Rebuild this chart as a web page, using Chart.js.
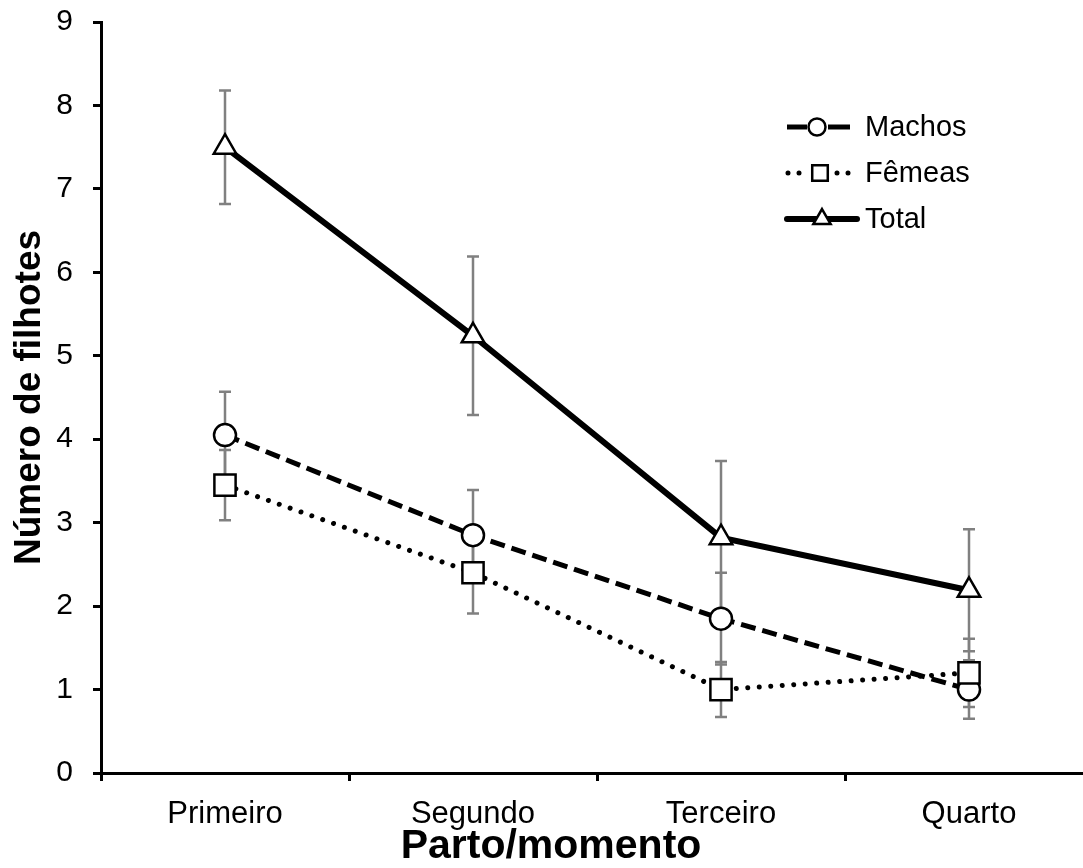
<!DOCTYPE html>
<html>
<head>
<meta charset="utf-8">
<script src="https://cdn.jsdelivr.net/npm/chart.js@4.4.1/dist/chart.umd.min.js"></script>
<style>
  html, body { margin: 0; padding: 0; background: #fff; overflow: hidden; }
  #wrap { position: absolute; left: 0; top: 0; }
</style>
</head>
<body>
<div id="wrap"><canvas id="chart" width="1110" height="868"></canvas></div>
<script>
// values
const categories = ['Primeiro', 'Segundo', 'Terceiro', 'Quarto'];
const machos = [4.05, 2.85, 1.85, 1.00];
const machosErr = [0.52, 0.54, 0.55, 0.35];
const femeas = [3.45, 2.40, 1.00, 1.20];
const femeasErr = [0.42, 0.49, 0.33, 0.41];
const total = [7.50, 5.24, 2.82, 2.19];
const totalErr = [0.68, 0.95, 0.92, 0.73];
const yMin = 0, yMax = 9, yStep = 1;
const xTitle = 'Parto/momento';

const FONT = "'Liberation Sans', Arial, sans-serif";

// error bars, drawn under lines and markers
const errorBars = {
  id: 'errorBars',
  beforeDatasetsDraw(c) {
    const ctx = c.ctx;
    const x = c.scales.x, y = c.scales.y;
    ctx.save();
    ctx.strokeStyle = '#808080';
    ctx.lineWidth = 2.5;
    c.data.datasets.forEach((ds) => {
      ds.data.forEach((v, i) => {
        const e = ds.errors[i];
        const px = x.getPixelForValue(i);
        const top = y.getPixelForValue(v + e);
        const bot = y.getPixelForValue(v - e);
        ctx.beginPath();
        ctx.moveTo(px, top); ctx.lineTo(px, bot);
        ctx.moveTo(px - 6, top); ctx.lineTo(px + 6, top);
        ctx.moveTo(px - 6, bot); ctx.lineTo(px + 6, bot);
        ctx.stroke();
      });
    });
    ctx.restore();
  }
};

// x title sits a bit left of the axis middle in the original
const bottomTitle = {
  id: 'bottomTitle',
  afterDraw(c) {
    const ctx = c.ctx;
    const a = c.chartArea;
    ctx.save();
    ctx.fillStyle = '#000';
    ctx.font = 'bold 41px ' + FONT;
    ctx.textAlign = 'center';
    ctx.textBaseline = 'middle';
    ctx.fillText(xTitle, a.left + 450, a.bottom + 74);
    ctx.restore();
  }
};

// legend inside the plot, line - marker - line
const innerLegend = {
  id: 'innerLegend',
  afterDraw(c) {
    const ctx = c.ctx;
    const a = c.chartArea;
    const x0 = a.left + 686;
    const y0 = a.top + 105;
    const rows = [
      { ds: 0, segs: [[0, 20], [41, 63]], dash: [], width: 5, cap: 'butt', mx: 30, r: 8.5 },
      { ds: 1, segs: [[1, 13], [50, 62]], dash: [0.01, 11], width: 5, cap: 'round', mx: 33, r: 11 },
      { ds: 2, segs: [[0, 70]], dash: [], width: 6, cap: 'round', mx: 35, r: 10 },
    ];
    ctx.save();
    rows.forEach((row, k) => {
      const ds = c.data.datasets[row.ds];
      const yy = y0 + k * 46;
      ctx.strokeStyle = '#000';
      ctx.lineWidth = row.width;
      ctx.lineCap = row.cap;
      ctx.setLineDash(row.dash);
      row.segs.forEach(s => {
        ctx.beginPath();
        ctx.moveTo(x0 + s[0], yy);
        ctx.lineTo(x0 + s[1], yy);
        ctx.stroke();
      });
      ctx.setLineDash([]);
      ctx.lineWidth = 2.5;
      ctx.fillStyle = '#fff';
      Chart.helpers.drawPoint(ctx, { pointStyle: ds.pointStyle, radius: row.r, rotation: 0, borderWidth: 2.5 }, x0 + row.mx, yy);
      ctx.fillStyle = '#000';
      ctx.font = '29px ' + FONT;
      ctx.textBaseline = 'middle';
      ctx.textAlign = 'left';
      ctx.fillText(ds.label, x0 + 78, yy + 1);
    });
    ctx.restore();
  }
};

new Chart(document.getElementById('chart'), {
  type: 'line',
  data: {
    labels: categories,
    datasets: [
      {
        label: 'Machos', data: machos, errors: machosErr, order: 1,
        borderColor: '#000', borderWidth: 5, borderDash: [15, 7],
        pointStyle: 'circle', pointRadius: 11, pointBorderWidth: 2.5,
        pointBackgroundColor: '#fff', pointBorderColor: '#000',
      },
      {
        label: 'Fêmeas', data: femeas, errors: femeasErr, order: 0,
        borderColor: '#000', borderWidth: 5, borderDash: [0.01, 11.5], borderCapStyle: 'round',
        pointStyle: 'rect', pointRadius: 15, pointBorderWidth: 2.5,
        pointBackgroundColor: '#fff', pointBorderColor: '#000',
      },
      {
        label: 'Total', data: total, errors: totalErr, order: 2,
        borderColor: '#000', borderWidth: 6,
        pointStyle: 'triangle', pointRadius: 13, pointBorderWidth: 2.5,
        pointBackgroundColor: '#fff', pointBorderColor: '#000',
      },
    ]
  },
  options: {
    responsive: false,
    animation: false,
    layout: { autoPadding: false, padding: { top: 22, right: 17, left: 0, bottom: 0 } },
    scales: {
      x: {
        offset: true,
        grid: { offset: true, drawOnChartArea: false, drawTicks: true, tickLength: 8, color: '#000', lineWidth: 3 },
        border: { display: true, color: '#000', width: 3 },
        ticks: { color: '#000', font: { family: FONT, size: 31 }, padding: 15, maxRotation: 0 },
        afterFit(s) { s.height = 95; },
      },
      y: {
        min: yMin, max: yMax,
        grid: { drawOnChartArea: false, drawTicks: true, tickLength: 8, color: '#000', lineWidth: 3 },
        border: { display: true, color: '#000', width: 3 },
        // small lineHeight keeps the top label from pushing the plot down
        ticks: { stepSize: yStep, color: '#000', font: { family: FONT, size: 30, lineHeight: 0.1 }, padding: 20 },
        title: { display: true, text: 'Número de filhotes', color: '#000', font: { family: FONT, size: 37, weight: 'bold' }, padding: { top: 8, bottom: 0 } },
        afterFit(s) { s.width = 101; },
      },
    },
    plugins: {
      legend: { display: false },
      tooltip: { enabled: false },
    },
  },
  plugins: [errorBars, bottomTitle, innerLegend],
});
</script>
</body>
</html>
